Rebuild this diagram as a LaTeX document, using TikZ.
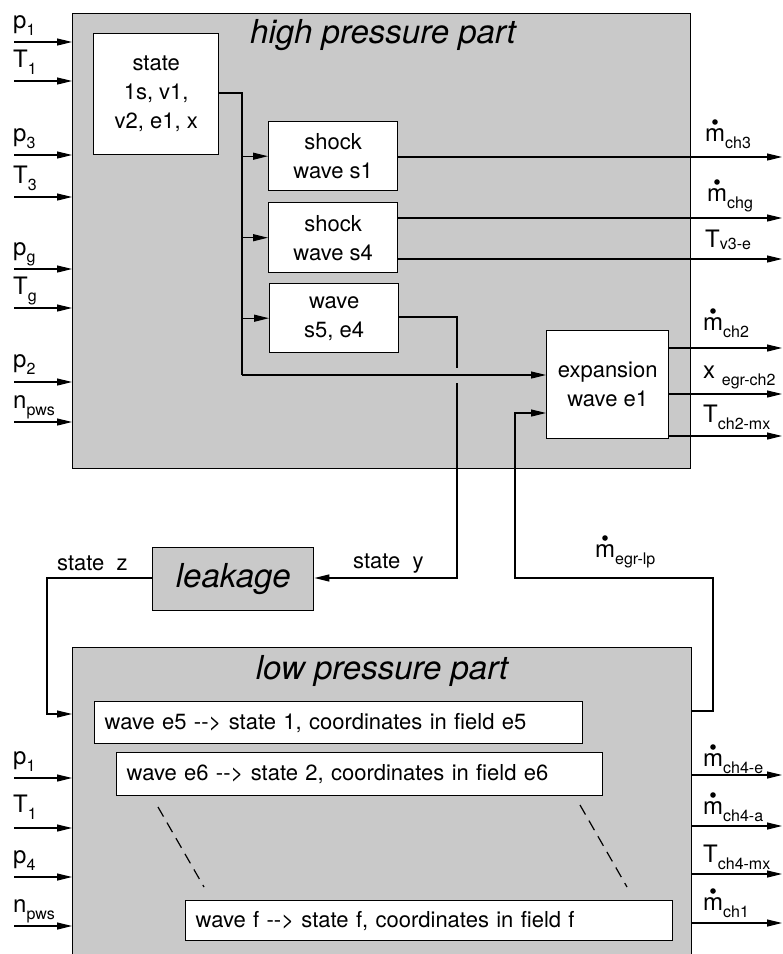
\documentclass[tikz,border=0pt]{standalone}
\usepackage{fontspec}
\setmainfont{TeX Gyre Heros}
\usetikzlibrary{arrows.meta}
\newcommand\fmain{\fontsize{22}{29}\selectfont}
\newcommand\flab{\fontsize{24}{28}\selectfont}
\newcommand\ftitle{\fontsize{33}{36}\selectfont\itshape}
\newcommand\sub[1]{\smash{\raisebox{-7pt}{\fontsize{16}{16}\selectfont #1}}}
\newcommand\subb[1]{\smash{\raisebox{-2pt}{\fontsize{16}{16}\selectfont #1}}}
\tikzset{
  panel/.style={draw, line width=1.4pt, fill=black!21, inner sep=0pt, anchor=north west},
  blk/.style={draw, line width=1.4pt, fill=white, inner sep=0pt, anchor=north west, align=center},
  wbox/.style={draw, line width=1.4pt, fill=white, inner ysep=0pt, inner xsep=10pt, anchor=north west, align=left},
  conn/.style={line width=1.2pt},
  arr/.style={conn, -{Triangle[length=15pt,width=7pt]}},
  lbl/.style={anchor=base west, inner sep=0pt, font=\flab},
}
\begin{document}
\begin{tikzpicture}[x=1pt,y=-1pt,font=\fmain]
\clip (0,0) rectangle (783,954);
% panels
\node[panel, minimum width=618pt, minimum height=455pt] (hp) at (72,13) {};
\node[anchor=base, font=\ftitle] (hpt) at (383,43) {high pressure part};
\node[panel, minimum width=619pt, minimum height=330pt] (lp) at (72,647) {};
\node[anchor=base, font=\ftitle] (lpt) at (382,679) {low pressure part};
\node[panel, minimum width=161pt, minimum height=63pt, font=\fontsize{33}{36}\selectfont\itshape] (leak) at (152,547) {leakage};
% high pressure blocks
\node[blk, minimum width=125pt, minimum height=121pt] (state) at (93,33) {state\\1s, v1,\\v2, e1, x};
\node[blk, minimum width=129pt, minimum height=69pt] (s1) at (268,121) {shock\\wave s1};
\node[blk, minimum width=129pt, minimum height=70pt] (s4) at (268,202) {shock\\wave s4};
\node[blk, minimum width=129pt, minimum height=69pt] (s5) at (269,283) {wave\\s5, e4};
\node[blk, minimum width=122pt, minimum height=108pt] (exp) at (546,330) {expansion\\wave e1};
% low pressure blocks
\node[wbox, text width=468pt, minimum height=42pt] (e5) at (94,701) {wave e5 -{}-{}> state 1, coordinates in field e5};
\node[wbox, text width=466pt, minimum height=43pt] (e6) at (116,752) {wave e6 -{}-{}> state 2, coordinates in field e6};
\node[wbox, text width=467pt, minimum height=40pt] (wf) at (185,900) {wave f -{}-{}> state f, coordinates in field f};
% dashed continuation marks
\coordinate (d1a) at (158,807); \coordinate (d1b) at (204,887);
\coordinate (d2a) at (580,805); \coordinate (d2b) at (627,887);
\draw[conn, dash pattern=on 11pt off 7pt] (d1a) -- (d1b);
\draw[conn, dash pattern=on 11pt off 7pt] (d2a) -- (d2b);
% high pressure inputs
\foreach \n/\y in {a/42, b/81, c/155, d/197, e/269, f/308, g/382, h/422}{
  \coordinate (hin\n) at (14,\y);
  \draw[arr] (hin\n) -- (hin\n -| hp.west);
}
\node[lbl] (lhp1) at (13,28) {p\sub{1}};
\node[lbl] (lht1) at (13,67) {T\sub{1}};
\node[lbl] (lhp3) at (13,141) {p\sub{3}};
\node[lbl] (lht3) at (13,183) {T\sub{3}};
\node[lbl] (lhpg) at (13,255) {p\sub{g}};
\node[lbl] (lhtg) at (13,294) {T\sub{g}};
\node[lbl] (lhp2) at (13,367) {p\sub{2}};
\node[lbl] (lhnp) at (13,408) {n\sub{pws}};
% state distribution
\coordinate (jt) at (242,93);
\coordinate (jb) at (242,375);
\draw[conn] (state.east |- jt) -- (jt) -- (jb);
\draw[arr] (jb) -- (jb -| exp.west);
\draw[arr] (jt |- s1.west) -- (s1.west);
\draw[arr] (jt |- s4.west) -- (s4.west);
\draw[arr] (jt |- s5.west) -- (s5.west);
% high pressure outputs
\coordinate (oa) at (782,157);
\coordinate (ob) at (782,218);
\coordinate (oc) at (782,259);
\coordinate (od) at (782,348);
\coordinate (oe) at (782,394);
\coordinate (of) at (782,436);
\draw[arr] (oa -| s1.east) -- (oa);
\draw[arr] (ob -| s4.east) -- (ob);
\draw[arr] (oc -| s4.east) -- (oc);
\draw[arr] (od -| exp.east) -- (od);
\draw[arr] (oe -| exp.east) -- (oe);
\draw[arr] (of -| exp.east) -- (of);
\node[lbl] (lmch3) at (705,141) {m\sub{ch3}};
\node[lbl] (lmchg) at (707,201) {m\sub{chg}};
\node[lbl] (ltv3) at (705,247) {T\subb{v3-e}};
\node[lbl] (lmch2) at (703,330) {m\sub{ch2}};
\node[lbl] (lxegr) at (703,378) {x \sub{egr-ch2}};
\node[lbl] (ltch2) at (703,422) {T\sub{ch2-mx}};
% state y to leakage
\coordinate (sy1) at (457,317);
\coordinate (sy2) at (457,368);
\coordinate (sy3) at (457,383);
\coordinate (sy4) at (457,578);
\draw[conn] (s5.east |- sy1) -- (sy1) -- (sy2);
\draw[arr] (sy3) -- (sy4) -- (sy4 -| leak.east);
\node[anchor=base west, inner sep=0pt] (lsy) at (353,568) {state~~y};
% leakage to low pressure
\coordinate (sz1) at (47,578);
\coordinate (sz2) at (47,714);
\draw[arr] (leak.west |- sz1) -- (sz1) -- (sz2) -- (sz2 -| lp.west);
\node[anchor=base west, inner sep=0pt] (lsz) at (57,570) {state~~z};
% egr loop from low pressure to expansion wave
\coordinate (eg1) at (713,711);
\coordinate (eg2) at (713,578);
\coordinate (eg3) at (515,578);
\coordinate (eg4) at (515,413);
\draw[arr] (eg1 -| lp.east) -- (eg1) -- (eg2) -- (eg3) -- (eg4) -- (eg4 -| exp.west);
\node[lbl] (lmegr) at (595,557) {m\sub{egr-lp}};
% low pressure inputs
\foreach \n/\y in {a/778, b/828, c/877, d/926}{
  \coordinate (lin\n) at (14,\y);
  \draw[arr] (lin\n) -- (lin\n -| lp.west);
}
\node[lbl] (llp1) at (13,764) {p\sub{1}};
\node[lbl] (llt1) at (13,812) {T\sub{1}};
\node[lbl] (llp4) at (13,863) {p\sub{4}};
\node[lbl] (llnp) at (13,912) {n\sub{pws}};
% low pressure outputs
\coordinate (loa) at (782,775);
\coordinate (lob) at (782,826);
\coordinate (loc) at (782,874);
\coordinate (lod) at (782,923);
\draw[arr] (loa -| lp.east) -- (loa);
\draw[arr] (lob -| lp.east) -- (lob);
\draw[arr] (loc -| lp.east) -- (loc);
\draw[arr] (lod -| lp.east) -- (lod);
\node[lbl] (lmch4e) at (703,766) {m\sub{ch4-e}};
\node[lbl] (lmch4a) at (703,814) {m\sub{ch4-a}};
\node[lbl] (ltch4) at (703,862) {T\sub{ch4-mx}};
\node[lbl] (lmch1) at (703,910) {m\sub{ch1}};
% time-derivative dots over the m's
\foreach \m in {lmch3, lmchg, lmch2, lmegr, lmch4e, lmch4a, lmch1}{
  \fill ([shift={(10,-19)}]\m.base west) circle (2.8pt);
}
\end{tikzpicture}
\end{document}
